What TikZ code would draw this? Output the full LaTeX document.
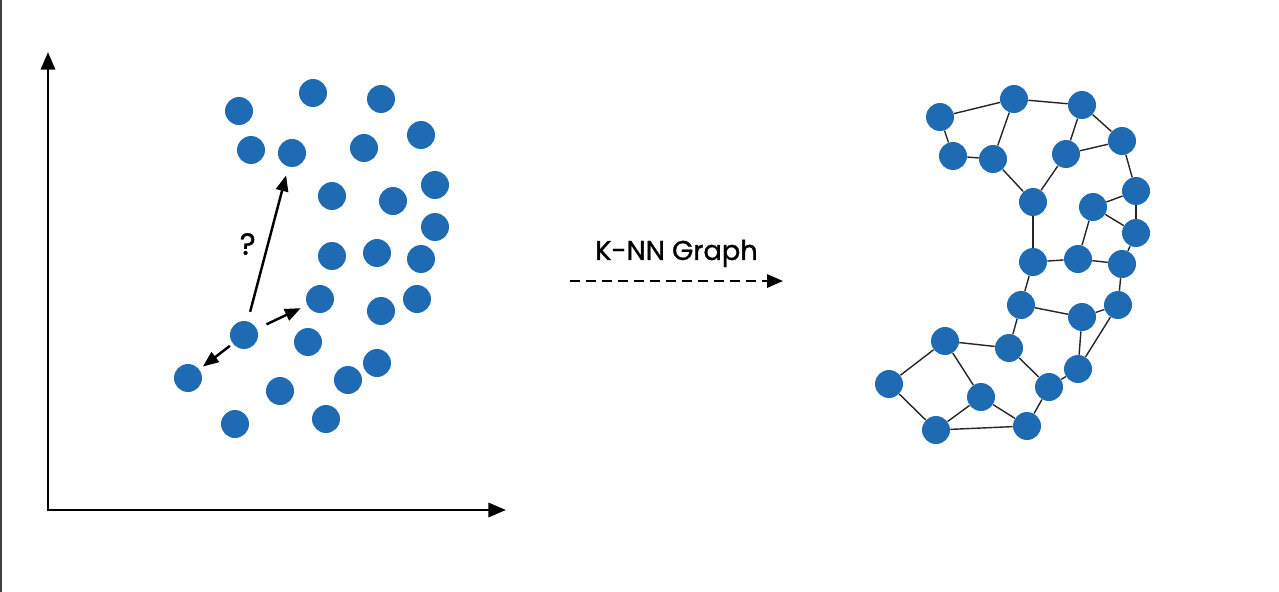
\documentclass[tikz,border=0pt]{standalone}
\usepackage{fontspec}
\setmainfont{Poppins}[FakeBold=1.2]
\usepackage{tikz}
\usetikzlibrary{arrows.meta,positioning}
\definecolor{ptblue}{RGB}{31,107,179}

\begin{document}
\begin{tikzpicture}[
  x=0.02cm, y=-0.02cm,
  pt/.style={circle, fill=ptblue, draw=none, inner sep=0pt, minimum size=0.56cm},
  axis/.style={line width=1.7pt, {Triangle[length=10pt,width=8pt]}-{Triangle[length=10pt,width=8pt]}},
  arrow/.style={-{Triangle[length=9pt,width=7pt]}, line width=1.4pt},
  link/.style={line width=0.8pt, black!85},
]
  \useasboundingbox (0,0) rectangle (1279,592);
  \draw[black!75, line width=1.1pt] (1,0) -- (1,592);

  % axes
  \coordinate (origin) at (48,510);
  \coordinate (ytop) at (48,52);
  \coordinate (xend) at (506,510);
  \draw[axis] (ytop) -- (origin) -- (xend);

  % raw points
  \foreach \n/\x/\y in {
    a1/239/111, a2/313/93, a3/381/99, a4/251/150, a5/292/153,
    a6/364/148, a7/421/135, a8/332/196, a9/393/201, a10/435/185,
    a11/435/227, a12/332/256, a13/377/253, a14/421/259, a15/320/299,
    a16/381/311, a17/417/299, a18/244/335, a19/308/342, a20/188/378,
    a21/280/391, a22/348/380, a23/377/363, a24/235/424, a25/326/419}
    \node[pt] (\n) at (\x,\y) {};

  \draw[arrow, shorten <=5.5pt, shorten >=5pt] (a18) -- node[left=3pt, font=\LARGE] {?} (a5);
  \draw[arrow, shorten <=6pt, shorten >=4pt] (a18) -- (a15);
  \draw[arrow, shorten <=2pt, shorten >=2.5pt] (a18) -- (a20);

  % k-nn step
  \coordinate (kstart) at (570,281);
  \coordinate (kend) at (783,281);
  \draw[line width=1.2pt, dash pattern=on 5.7pt off 3.4pt, -{Triangle[length=9pt,width=7.5pt]}]
    (kstart) -- node[above=4pt, font=\fontsize{15.5}{18}\selectfont] {K-NN Graph} (kend);

  % graph
  \foreach \n/\x/\y in {
    g1/940/117, g2/1014/99, g3/1082/105, g4/953/156, g5/993/159,
    g6/1066/154, g7/1122/141, g8/1033/202, g9/1136/191, g10/1093/207,
    g11/1136/233, g12/1033/262, g13/1078/259, g14/1122/264, g15/1021/305,
    g16/1082/317, g17/1118/305, g18/945/341, g19/1009/348, g20/1078/369,
    g21/1049/387, g22/889/384, g23/981/397, g24/936/430, g25/1027/426}
    \node[pt] (\n) at (\x,\y) {};

  \foreach \p/\q in {
    g1/g2, g1/g4, g4/g5, g5/g2, g5/g8, g8/g6, g6/g3, g2/g3,
    g3/g7, g6/g7, g7/g9, g9/g11, g10/g9, g10/g11, g10/g13, g8/g12,
    g12/g13, g13/g14, g11/g14, g12/g15, g14/g17, g15/g16, g16/g17,
    g16/g20, g17/g20, g15/g19, g19/g18, g19/g21, g20/g21, g21/g25,
    g18/g22, g18/g23, g22/g24, g24/g23, g23/g25, g24/g25}
    \draw[link] (\p) -- (\q);
\end{tikzpicture}
\end{document}
